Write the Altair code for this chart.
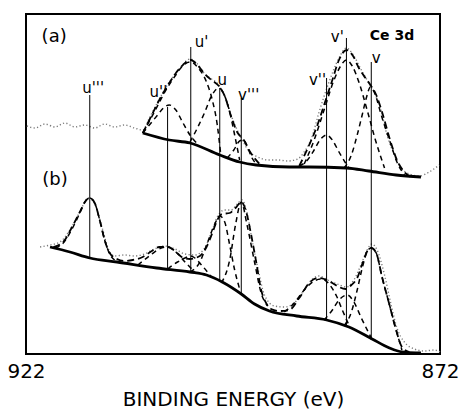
import altair as alt
import pandas as pd

# ---------------- (a) upper spectrum ----------------
a_data_eV = [921.9, 920.9, 919.7, 918.5, 917.3, 916.1, 914.9, 913.7, 912.5, 911.3, 910.1, 908.9,
             907.9, 907.1, 905.9, 904.7, 903.4, 902.2, 901.3, 900.4, 899.6, 898.7, 897.9, 897.1,
             896.0, 895.0, 894.0, 892.8, 891.6, 890.4, 889.2, 888.4, 887.5, 886.6, 885.4, 884.2,
             883.3, 882.4, 881.5, 880.8, 880.1, 879.2, 878.4, 877.5, 876.7, 875.7, 874.5, 873.3, 872.1]
a_data_I = [228, 226, 230, 227, 231, 227, 229, 226, 230, 227, 229, 226,
            224, 236, 255, 272, 286, 295, 290, 280, 275, 269, 256, 236,
            216, 202, 197, 194, 194, 193, 195, 202, 216, 242, 272, 296,
            306, 298, 284, 274, 264, 246, 219, 199, 186, 180, 178, 182, 189]

a_bg_eV = [907.9, 904.7, 902.2, 898.6, 896.2, 894.2, 890.2, 887.8, 883.3, 880.6, 877.3, 874.3]
a_bg_I = [221, 214, 211, 199, 192, 189, 187, 187, 186, 183, 179, 177]

a_env1_eV = [907.9, 907.1, 905.9, 904.7, 903.4, 902.1, 901.3, 900.4, 899.6, 898.7, 898.0, 897.2,
             896.5, 895.7, 895.0, 893.8]
a_env1_I = [221, 234, 254, 271, 286, 294, 289, 280, 274, 268, 258, 237, 222, 214, 203, 190]
a_env2_eV = [889.0, 887.8, 886.8, 886.0, 885.0, 884.2, 883.3, 882.5, 881.8, 881.0, 880.4, 879.7,
             879.0, 878.1, 877.2, 876.3, 875.5]
a_env2_I = [188, 209, 229, 249, 274, 294, 304, 298, 286, 276, 269, 259, 242, 216, 194, 182, 177]

a_u2_eV = [907.9, 907.1, 906.1, 905.4, 904.7, 903.9, 903.1, 902.2, 901.4]
a_u2_I = [221, 229, 239, 246, 249, 244, 232, 219, 211]
a_u1_eV = [907.9, 906.5, 905.3, 904.0, 903.1, 902.1, 901.2, 900.2, 899.5, 898.9, 898.5]
a_u1_I = [221, 242, 261, 278, 288, 292, 286, 272, 254, 229, 201]
a_u0_eV = [902.2, 901.3, 900.4, 899.6, 898.7, 898.0, 897.4, 896.8, 896.2]
a_u0_I = [212, 226, 242, 258, 266, 258, 242, 219, 194]
a_v3_eV = [897.7, 896.9, 896.2, 895.7, 895.3, 894.7, 894.0]
a_v3_I = [196, 204, 213, 214, 208, 196, 189]
a_v2_eV = [889.0, 888.0, 887.2, 886.5, 885.7, 885.0, 884.2, 883.4, 883.0]
a_v2_I = [188, 194, 204, 214, 219, 214, 202, 191, 186]
a_v1_eV = [888.4, 887.2, 886.0, 884.8, 884.0, 883.3, 882.6, 881.8, 880.8, 879.8, 878.7]
a_v1_I = [190, 214, 244, 274, 288, 294, 288, 272, 244, 214, 186]
a_v0_eV = [883.6, 882.7, 882.0, 881.4, 880.9, 880.4, 879.8, 879.1, 878.1, 877.2, 876.3]
a_v0_I = [186, 199, 219, 239, 256, 267, 259, 239, 214, 192, 179]

# ---------------- (b) lower spectrum ----------------
b_data_eV = [920.3, 919.1, 917.9, 916.7, 915.5, 914.5, 913.7, 912.8, 912.1, 911.3, 910.1, 908.9,
             907.7, 906.5, 905.3, 904.0, 902.8, 901.6, 900.4, 899.6, 898.9, 898.0, 897.2, 896.5,
             895.9, 895.3, 894.7, 894.0, 893.2, 892.0, 890.8, 889.6, 888.4, 887.4, 886.6, 885.6,
             884.4, 883.3, 882.4, 881.5, 880.8, 880.2, 879.6, 878.7, 877.9, 877.2, 876.3, 875.1,
             873.9, 872.7, 872.0]
b_data_I = [107, 109, 112, 124, 142, 156, 150, 126, 106, 98, 99, 98,
            100, 105, 108, 105, 100, 99, 106, 122, 137, 144, 144, 150,
            154, 141, 114, 86, 59, 48, 47, 51, 64, 75, 78, 74,
            70, 67, 74, 90, 104, 110, 104, 79, 49, 26, 12, 5,
            3, 4, 2]

b_bg_eV = [919.1, 916.7, 914.3, 911.0, 906.2, 902.2, 900.2, 898.3, 896.0, 894.4, 892.6, 889.3,
           885.7, 883.0, 880.2, 878.1, 876.6, 874.9, 874.3]
b_bg_I = [107, 102, 96, 92, 86, 82, 79, 72, 60, 50, 43, 38, 34, 27, 15, 6, 2, 1, 1]

b_env_eV = [918.7, 917.5, 916.5, 915.5, 914.8, 914.3, 913.7, 913.1, 912.5, 911.9, 911.0, 910.1,
            909.1, 907.9, 906.8, 905.9, 904.9, 904.0, 903.2, 902.2, 901.0, 900.2, 899.5, 898.9,
            898.3, 897.4, 896.7, 896.0, 895.4, 894.8, 894.2, 893.6, 893.0, 892.4, 891.4, 890.2,
            889.0, 887.8, 886.8, 886.0, 885.0, 884.2, 883.4, 882.7, 882.0, 881.3, 880.7, 880.3,
            879.7, 879.0, 878.1, 877.3, 876.6, 875.7]
b_env_I = [107, 112, 126, 142, 153, 156, 151, 134, 114, 101, 95, 93,
           94, 97, 103, 107, 107, 103, 97, 95, 98, 107, 121, 134,
           140, 141, 146, 152, 142, 119, 92, 64, 51, 45, 43, 44,
           56, 71, 76, 75, 71, 67, 65, 69, 76, 92, 104, 106,
           101, 77, 49, 24, 7, 2]

b_u3_eV = [918.5, 917.5, 916.5, 915.5, 914.8, 914.3, 913.7, 913.1, 912.5, 911.9, 911.3]
b_u3_I = [106, 111, 124, 141, 153, 156, 151, 134, 114, 100, 94]
b_u2_eV = [908.5, 907.1, 905.9, 904.9, 903.9, 902.8, 901.6]
b_u2_I = [89, 98, 105, 107, 102, 92, 82]
b_u1_eV = [904.9, 903.7, 902.8, 902.2, 901.6, 900.8, 899.6]
b_u1_I = [85, 92, 96, 98, 96, 89, 77]
b_u0_eV = [902.2, 901.0, 900.1, 899.2, 898.6, 898.0, 897.4, 896.8, 896.2]
b_u0_I = [82, 92, 111, 130, 138, 132, 109, 84, 65]
b_v3_eV = [898.4, 897.4, 896.7, 896.0, 895.3, 894.4, 893.6, 892.8]
b_v3_I = [71, 94, 129, 152, 129, 92, 61, 48]
b_v2_eV = [890.8, 889.6, 888.4, 887.2, 886.3, 885.4, 884.5, 883.8, 883.0]
b_v2_I = [42, 51, 64, 73, 75, 70, 58, 44, 29]
b_v1_eV = [886.0, 885.0, 884.2, 883.2, 882.4, 881.5, 880.3]
b_v1_I = [34, 44, 54, 59, 52, 36, 16]
b_v0_eV = [883.6, 882.7, 882.0, 881.3, 880.7, 880.3, 879.7, 879.0, 878.1, 877.3, 876.6]
b_v0_I = [28, 42, 64, 89, 104, 106, 101, 77, 49, 24, 4]

# ---------------- peak markers & labels ----------------
peak_names = ["u'''", "u''", "u'", "u", "v'''", "v''", "v'", "v"]
peak_eV = [914.3, 904.9, 902.1, 898.6, 896.0, 885.7, 883.3, 880.3]
line_top = [259, 247, 307, 266, 256, 276, 316, 292]
line_bottom = [97, 85, 82, 72, 60, 34, 27, 14]
label_eV = [913.9, 906.0, 900.8, 898.3, 895.1, 886.8, 884.4, 879.7]
label_I = [261, 257, 307, 269, 254, 269, 312, 291]

panel_text = ["(a)", "(b)"]
panel_eV = [918.6, 918.5]
panel_I = [312, 169]

x_ticks = [922, 872]

# ---------------- build tables ----------------
rows = []
def add(name, kind, ev, inten):
    assert len(ev) == len(inten), name
    for i, (e, v) in enumerate(zip(ev, inten)):
        rows.append({"curve": name, "kind": kind, "idx": i, "energy": e, "intensity": v})

add("a_data", "data", a_data_eV, a_data_I)
add("b_data", "data", b_data_eV, b_data_I)
add("a_bg", "bg", a_bg_eV, a_bg_I)
add("b_bg", "bg", b_bg_eV, b_bg_I)
add("a_env1", "env", a_env1_eV, a_env1_I)
add("a_env2", "env", a_env2_eV, a_env2_I)
add("b_env", "env", b_env_eV, b_env_I)
for nm, ev, iv in [("a_u2", a_u2_eV, a_u2_I), ("a_u1", a_u1_eV, a_u1_I), ("a_u0", a_u0_eV, a_u0_I),
                   ("a_v3", a_v3_eV, a_v3_I), ("a_v2", a_v2_eV, a_v2_I), ("a_v1", a_v1_eV, a_v1_I),
                   ("a_v0", a_v0_eV, a_v0_I),
                   ("b_u3", b_u3_eV, b_u3_I), ("b_u2", b_u2_eV, b_u2_I), ("b_u1", b_u1_eV, b_u1_I),
                   ("b_u0", b_u0_eV, b_u0_I), ("b_v3", b_v3_eV, b_v3_I), ("b_v2", b_v2_eV, b_v2_I),
                   ("b_v1", b_v1_eV, b_v1_I), ("b_v0", b_v0_eV, b_v0_I)]:
    add(nm, "comp", ev, iv)

df = pd.DataFrame(rows)
peaks = pd.DataFrame({"name": peak_names, "energy": peak_eV, "top": line_top,
                      "bottom": line_bottom, "lx": label_eV, "ly": label_I})
panels = pd.DataFrame({"text": panel_text, "energy": panel_eV, "intensity": panel_I})
ce = pd.DataFrame({"text": ["Ce 3d"], "energy": [877.8], "intensity": [314]})

FONT = "DejaVu Sans"
xscale = alt.Scale(domain=[922, 872], nice=False, zero=False)
yscale = alt.Scale(domain=[0, 340], nice=False, zero=False)

X = alt.X("energy:Q", scale=xscale,
          axis=alt.Axis(values=x_ticks, title="BINDING ENERGY (eV)", format="d",
                        ticks=False, domain=False, grid=False, labelFlush=False,
                        labelOverlap=False, labelFont=FONT, labelFontSize=20,
                        labelColor="black", labelPadding=7, titleFont=FONT,
                        titleFontSize=20, titleFontWeight="normal", titleColor="black",
                        titlePadding=8))
Y = alt.Y("intensity:Q", scale=yscale, axis=None)

base = alt.Chart(df)

data_line = base.transform_filter(alt.datum.kind == "data").mark_line(
    color="#7a7a7a", strokeWidth=1.4, strokeDash=[1.2, 2.3], interpolate="monotone"
).encode(x=X, y=Y, detail="curve:N", order="idx:Q")

bg_line = base.transform_filter(alt.datum.kind == "bg").mark_line(
    color="black", strokeWidth=2.8, interpolate="monotone"
).encode(x=X, y=Y, detail="curve:N", order="idx:Q")

env_line = base.transform_filter(alt.datum.kind == "env").mark_line(
    color="black", strokeWidth=1.8, strokeDash=[7, 4], interpolate="monotone"
).encode(x=X, y=Y, detail="curve:N", order="idx:Q")

comp_line = base.transform_filter(alt.datum.kind == "comp").mark_line(
    color="black", strokeWidth=1.5, strokeDash=[5, 4], interpolate="monotone"
).encode(x=X, y=Y, detail="curve:N", order="idx:Q")

rules = alt.Chart(peaks).mark_rule(color="black", strokeWidth=1).encode(
    x=alt.X("energy:Q", scale=xscale), y=alt.Y("top:Q", scale=yscale), y2="bottom:Q")

plabels = alt.Chart(peaks).mark_text(
    font=FONT, fontSize=15, color="black", align="center", baseline="alphabetic"
).encode(x=alt.X("lx:Q", scale=xscale), y=alt.Y("ly:Q", scale=yscale), text="name:N")

ptext = alt.Chart(panels).mark_text(
    font=FONT, fontSize=18, color="black", align="center", baseline="alphabetic"
).encode(x=alt.X("energy:Q", scale=xscale), y=alt.Y("intensity:Q", scale=yscale), text="text:N")

cetext = alt.Chart(ce).mark_text(
    font=FONT, fontSize=14, fontWeight="bold", color="black", align="center", baseline="alphabetic"
).encode(x=alt.X("energy:Q", scale=xscale), y=alt.Y("intensity:Q", scale=yscale), text="text:N")

chart = alt.layer(data_line, bg_line, comp_line, env_line, rules, plabels, ptext, cetext).properties(
    width=414, height=340,
    autosize=alt.AutoSizeParams(type="none"),
    padding={"left": 26, "top": 14, "right": 20, "bottom": 59},
    background="white",
).configure_view(stroke="black", strokeWidth=2)

chart.save("out.html", embed_options={"renderer": "svg", "actions": False})
